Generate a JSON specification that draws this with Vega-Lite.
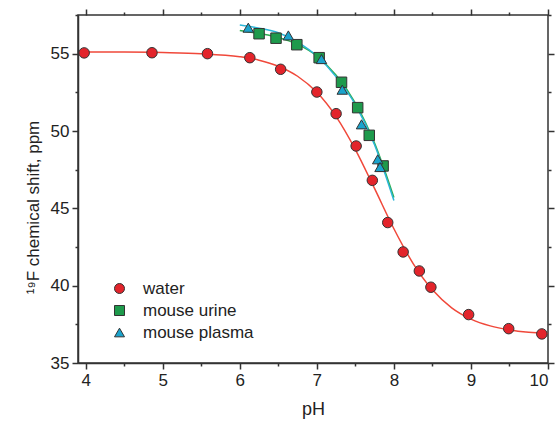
{
  "$schema": "https://vega.github.io/schema/vega-lite/v6.json",
  "autosize": "none",
  "width": 470,
  "height": 348,
  "padding": {"left": 78, "top": 15, "right": 11, "bottom": 63},
  "background": "white",
  "config": {
    "font": "Liberation Sans",
    "view": {"stroke": "#333333", "strokeWidth": 1.5},
    "axis": {"grid": false, "domainColor": "#333333", "domainWidth": 1.5, "tickColor": "#333333", "tickWidth": 1.5, "labelColor": "#222222", "titleColor": "#222222", "labelFont": "Liberation Sans", "titleFont": "Liberation Sans", "titleFontWeight": "normal"}
  },
  "datasets": {
    "curves": [
      {"series": "water", "pH": 4.0, "shift": 55.1},
      {"series": "water", "pH": 4.5, "shift": 55.1},
      {"series": "water", "pH": 5.0, "shift": 55.07},
      {"series": "water", "pH": 5.5, "shift": 55.0},
      {"series": "water", "pH": 6.0, "shift": 54.8},
      {"series": "water", "pH": 6.25, "shift": 54.58},
      {"series": "water", "pH": 6.5, "shift": 54.19},
      {"series": "water", "pH": 6.75, "shift": 53.54},
      {"series": "water", "pH": 7.0, "shift": 52.5},
      {"series": "water", "pH": 7.25, "shift": 50.93},
      {"series": "water", "pH": 7.5, "shift": 48.8},
      {"series": "water", "pH": 7.75, "shift": 46.27},
      {"series": "water", "pH": 8.0, "shift": 43.68},
      {"series": "water", "pH": 8.25, "shift": 41.43},
      {"series": "water", "pH": 8.5, "shift": 39.73},
      {"series": "water", "pH": 8.75, "shift": 38.57},
      {"series": "water", "pH": 9.0, "shift": 37.84},
      {"series": "water", "pH": 9.25, "shift": 37.4},
      {"series": "water", "pH": 9.5, "shift": 37.14},
      {"series": "water", "pH": 9.75, "shift": 36.99},
      {"series": "water", "pH": 10.0, "shift": 36.91},
      {"series": "mouse urine", "pH": 6.0, "shift": 56.5},
      {"series": "mouse urine", "pH": 6.25, "shift": 56.3},
      {"series": "mouse urine", "pH": 6.5, "shift": 56.05},
      {"series": "mouse urine", "pH": 6.75, "shift": 55.6},
      {"series": "mouse urine", "pH": 7.0, "shift": 54.85},
      {"series": "mouse urine", "pH": 7.25, "shift": 53.6},
      {"series": "mouse urine", "pH": 7.5, "shift": 51.8},
      {"series": "mouse urine", "pH": 7.75, "shift": 49.2},
      {"series": "mouse urine", "pH": 8.0, "shift": 45.7},
      {"series": "mouse plasma", "pH": 6.0, "shift": 56.85},
      {"series": "mouse plasma", "pH": 6.25, "shift": 56.65},
      {"series": "mouse plasma", "pH": 6.5, "shift": 56.35},
      {"series": "mouse plasma", "pH": 6.75, "shift": 55.75},
      {"series": "mouse plasma", "pH": 7.0, "shift": 54.85},
      {"series": "mouse plasma", "pH": 7.25, "shift": 53.5},
      {"series": "mouse plasma", "pH": 7.5, "shift": 51.7},
      {"series": "mouse plasma", "pH": 7.75, "shift": 49.1},
      {"series": "mouse plasma", "pH": 8.0, "shift": 45.5}
    ],
    "points": [
      {"series": "water", "pH": 3.98, "shift": 55.05},
      {"series": "water", "pH": 4.86, "shift": 55.06},
      {"series": "water", "pH": 5.58, "shift": 55.0},
      {"series": "water", "pH": 6.13, "shift": 54.74},
      {"series": "water", "pH": 6.53, "shift": 53.99},
      {"series": "water", "pH": 7.0, "shift": 52.52},
      {"series": "water", "pH": 7.25, "shift": 51.12},
      {"series": "water", "pH": 7.51, "shift": 49.03},
      {"series": "water", "pH": 7.72, "shift": 46.81},
      {"series": "water", "pH": 7.92, "shift": 44.08},
      {"series": "water", "pH": 8.12, "shift": 42.18},
      {"series": "water", "pH": 8.33, "shift": 40.95},
      {"series": "water", "pH": 8.48, "shift": 39.9},
      {"series": "water", "pH": 8.97, "shift": 38.13},
      {"series": "water", "pH": 9.49, "shift": 37.22},
      {"series": "water", "pH": 9.92, "shift": 36.88},
      {"series": "mouse urine", "pH": 6.25, "shift": 56.29},
      {"series": "mouse urine", "pH": 6.47, "shift": 56.0},
      {"series": "mouse urine", "pH": 6.74, "shift": 55.58},
      {"series": "mouse urine", "pH": 7.03, "shift": 54.74},
      {"series": "mouse urine", "pH": 7.32, "shift": 53.15},
      {"series": "mouse urine", "pH": 7.53, "shift": 51.51},
      {"series": "mouse urine", "pH": 7.68, "shift": 49.72},
      {"series": "mouse urine", "pH": 7.86, "shift": 47.74},
      {"series": "mouse plasma", "pH": 6.11, "shift": 56.68},
      {"series": "mouse plasma", "pH": 6.63, "shift": 56.18},
      {"series": "mouse plasma", "pH": 7.06, "shift": 54.65},
      {"series": "mouse plasma", "pH": 7.33, "shift": 52.67},
      {"series": "mouse plasma", "pH": 7.58, "shift": 50.43},
      {"series": "mouse plasma", "pH": 7.79, "shift": 48.17},
      {"series": "mouse plasma", "pH": 7.82, "shift": 47.67}
    ]
  },
  "layer": [
    {
      "data": {"name": "curves"},
      "mark": {"type": "line", "interpolate": "monotone", "strokeWidth": 1.5},
      "encoding": {
        "x": {"field": "pH", "type": "quantitative", "scale": {"domain": [3.9, 10], "nice": false, "zero": false},
          "axis": {"orient": "bottom", "values": [4, 4.5, 5, 5.5, 6, 6.5, 7, 7.5, 8, 8.5, 9, 9.5, 10], "labelExpr": "datum.value % 1 ? '' : format(datum.value, 'd')", "tickSize": {"expr": "datum.value % 1 ? 3 : 6"}, "labelFontSize": 17, "labelPadding": 3, "title": "pH", "titleFontSize": 18, "titlePadding": 12}},
        "y": {"field": "shift", "type": "quantitative", "scale": {"domain": [35, 57.5], "nice": false, "zero": false},
          "axis": {"orient": "left", "values": [35, 37.5, 40, 42.5, 45, 47.5, 50, 52.5, 55, 57.5], "labelExpr": "datum.value % 5 ? '' : format(datum.value, 'd')", "tickSize": {"expr": "datum.value % 5 ? 3 : 6"}, "labelFontSize": 17, "labelPadding": 3, "title": "¹⁹F chemical shift, ppm", "titleFontSize": 17, "titlePadding": 8, "titleY": 192}},
        "color": {"field": "series", "type": "nominal", "legend": null,
          "scale": {"domain": ["water", "mouse urine", "mouse plasma"], "range": ["#f0483a", "#2fae52", "#2cb6d8"]}},
        "detail": {"field": "series"}
      }
    },
    {
      "data": {"name": "points"},
      "mark": {"type": "point", "filled": true, "stroke": "#333333", "strokeWidth": 1, "opacity": 1, "size": 110},
      "encoding": {
        "x": {"field": "pH", "type": "quantitative",
          "axis": {"orient": "top", "values": [4, 4.5, 5, 5.5, 6, 6.5, 7, 7.5, 8, 8.5, 9, 9.5, 10], "labels": false, "domain": false, "title": null, "tickSize": {"expr": "datum.value % 1 ? 3 : 6"}}},
        "y": {"field": "shift", "type": "quantitative",
          "axis": {"orient": "right", "values": [35, 37.5, 40, 42.5, 45, 47.5, 50, 52.5, 55, 57.5], "labels": false, "domain": false, "title": null, "tickSize": {"expr": "datum.value % 5 ? 3 : 6"}}},
        "color": {"field": "series", "type": "nominal",
          "scale": {"domain": ["water", "mouse urine", "mouse plasma"], "range": ["#e3242b", "#1e9a4c", "#1aa3cc"]},
          "legend": {"title": null, "orient": "none", "legendX": 33, "legendY": 265, "labelFontSize": 17, "labelColor": "#222222", "symbolSize": 100, "symbolStrokeColor": "#333333", "symbolStrokeWidth": 1, "labelOffset": 15, "rowPadding": 4, "padding": 0}},
        "shape": {"field": "series", "type": "nominal",
          "scale": {"domain": ["water", "mouse urine", "mouse plasma"], "range": ["circle", "square", "triangle-up"]},
          "legend": {"title": null, "orient": "none", "legendX": 33, "legendY": 265, "labelFontSize": 17, "labelColor": "#222222", "symbolSize": 100, "symbolStrokeColor": "#333333", "symbolStrokeWidth": 1, "labelOffset": 15, "rowPadding": 4, "padding": 0}}
      }
    }
  ],
  "resolve": {"scale": {"color": "independent", "shape": "independent"}, "legend": {"color": "independent", "shape": "independent"}, "axis": {"x": "independent", "y": "independent"}}
}
